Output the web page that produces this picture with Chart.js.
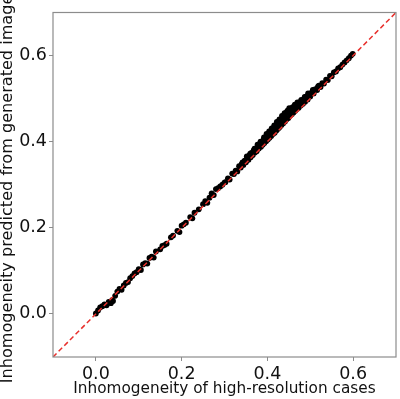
<!DOCTYPE html>
<html>
<head>
<meta charset="utf-8">
<script src="https://cdn.jsdelivr.net/npm/chart.js@4/dist/chart.umd.min.js"></script>
<style>
    html, body { margin: 0; padding: 0; background: #fff; }
    #wrap { width: 400px; height: 399px; }
</style>
</head>
<body>
<div id="wrap"><canvas id="chart"></canvas></div>
<script>
// Values
const highRes = [
    0.000, 0.005, 0.010, 0.015, 0.020, 0.025, 0.030, 0.035, 0.038, 0.040,
    0.045, 0.050, 0.055, 0.060, 0.065, 0.070, 0.075, 0.080, 0.085, 0.090,
    0.095, 0.100, 0.105, 0.110, 0.115, 0.120, 0.125, 0.130, 0.135, 0.140,
    0.150, 0.155, 0.160, 0.165, 0.175, 0.180, 0.190, 0.195, 0.200, 0.205,
    0.210, 0.220, 0.225, 0.230, 0.240, 0.250, 0.255, 0.260, 0.265, 0.270,
    0.275, 0.280, 0.285, 0.290, 0.295, 0.300,
    0.302, 0.308, 0.312, 0.318, 0.322, 0.326, 0.330, 0.334, 0.338, 0.340,
    0.344, 0.347, 0.350, 0.353, 0.356, 0.358, 0.361, 0.363, 0.366, 0.368,
    0.371, 0.373, 0.375, 0.378, 0.380, 0.382, 0.385, 0.387, 0.389, 0.391,
    0.393, 0.395, 0.397, 0.399, 0.401, 0.403, 0.405, 0.407, 0.409, 0.411,
    0.413, 0.415, 0.417, 0.419, 0.421, 0.423, 0.425, 0.427, 0.429, 0.431,
    0.433, 0.435, 0.437, 0.439, 0.441, 0.443, 0.445, 0.447, 0.449, 0.451,
    0.453, 0.455, 0.457, 0.459, 0.461, 0.463, 0.465, 0.467, 0.469, 0.471,
    0.473, 0.476, 0.478, 0.481, 0.483, 0.486, 0.488, 0.491, 0.494, 0.497,
    0.500, 0.504, 0.508, 0.512, 0.516, 0.520, 0.524, 0.528, 0.532, 0.537,
    0.541, 0.546, 0.550, 0.555, 0.560, 0.565, 0.570, 0.575, 0.580, 0.585,
    0.590, 0.595, 0.599,
    0.342, 0.352, 0.360, 0.370, 0.377, 0.384, 0.392, 0.398, 0.404, 0.410,
    0.416, 0.422, 0.428, 0.434, 0.440, 0.446, 0.452, 0.458, 0.464, 0.470,
    0.479, 0.487, 0.495, 0.506, 0.518
];
const predicted = [
    0.001, 0.008, 0.015, 0.018, 0.022, 0.020, 0.028, 0.025, 0.032, 0.030,
    0.042, 0.052, 0.058, 0.056, 0.066, 0.072, 0.074, 0.083, 0.088, 0.094,
    0.097, 0.104, 0.102, 0.115, 0.118, 0.117, 0.130, 0.133, 0.131, 0.145,
    0.150, 0.158, 0.160, 0.163, 0.178, 0.182, 0.193, 0.190, 0.205, 0.208,
    0.212, 0.225, 0.222, 0.235, 0.243, 0.255, 0.262, 0.258, 0.270, 0.280,
    0.276, 0.290, 0.292, 0.296, 0.300, 0.305,
    0.306, 0.315, 0.312, 0.326, 0.325, 0.333, 0.331, 0.343, 0.340, 0.348,
    0.346, 0.356, 0.352, 0.362, 0.358, 0.368, 0.364, 0.374, 0.369, 0.380,
    0.375, 0.384, 0.378, 0.390, 0.384, 0.395, 0.388, 0.400, 0.393, 0.404,
    0.397, 0.410, 0.401, 0.413, 0.405, 0.418, 0.409, 0.422, 0.413, 0.428,
    0.418, 0.432, 0.421, 0.436, 0.426, 0.442, 0.430, 0.447, 0.434, 0.450,
    0.439, 0.455, 0.443, 0.460, 0.447, 0.466, 0.452, 0.472, 0.455, 0.478,
    0.460, 0.474, 0.464, 0.480, 0.468, 0.482, 0.472, 0.484, 0.476, 0.488,
    0.479, 0.492, 0.484, 0.494, 0.488, 0.500, 0.493, 0.505, 0.498, 0.510,
    0.505, 0.515, 0.512, 0.522, 0.520, 0.530, 0.527, 0.536, 0.535, 0.544,
    0.543, 0.553, 0.552, 0.561, 0.563, 0.570, 0.573, 0.579, 0.584, 0.589,
    0.594, 0.600, 0.604,
    0.352, 0.366, 0.372, 0.384, 0.393, 0.400, 0.410, 0.418, 0.424, 0.431,
    0.438, 0.446, 0.452, 0.460, 0.466, 0.470, 0.473, 0.478, 0.486, 0.491,
    0.497, 0.504, 0.512, 0.520, 0.528
];
const identityLine = [-0.1, 0.7];
const tickValues = [0.0, 0.2, 0.4, 0.6];
const axisMin = -0.1;
const axisMax = 0.7;

const fontFamily = '"DejaVu Sans", sans-serif';

// Draws the box round the plot area, like a matplotlib frame
const framePlugin = {
    id: 'frame',
    afterDatasetsDraw(chart) {
        const { ctx, chartArea } = chart;
        ctx.save();
        ctx.strokeStyle = '#8c8c8c';
        ctx.lineWidth = 1.2;
        ctx.strokeRect(chartArea.left, chartArea.top,
            chartArea.right - chartArea.left, chartArea.bottom - chartArea.top);
        ctx.restore();
    }
};

function fixedTicks(scale) {
    scale.ticks = tickValues.map(v => ({ value: v }));
}

const tickGrid = {
    drawOnChartArea: false,
    drawTicks: true,
    tickLength: 4,
    color: '#8c8c8c',
};

new Chart(document.getElementById('chart'), {
    type: 'scatter',
    data: {
        datasets: [
            {
                type: 'line',
                data: identityLine.map(v => ({ x: v, y: v })),
                borderColor: '#e8302c',
                borderWidth: 1.5,
                borderDash: [5, 3],
                pointRadius: 0,
                fill: false,
            },
            {
                data: highRes.map((x, i) => ({ x: x, y: predicted[i] })),
                backgroundColor: '#000000',
                borderWidth: 0,
                pointRadius: 2.9,
            }
        ]
    },
    options: {
        responsive: true,
        maintainAspectRatio: false,
        animation: false,
        layout: { padding: { top: 11, right: 2, left: 0, bottom: 0 } },
        plugins: {
            legend: { display: false },
            tooltip: { enabled: false },
        },
        scales: {
            x: {
                type: 'linear',
                min: axisMin,
                max: axisMax,
                afterBuildTicks: fixedTicks,
                afterFit: (scale) => { scale.height = 42; },
                grid: tickGrid,
                border: { display: false },
                ticks: {
                    font: { family: fontFamily, size: 17.5 },
                    color: '#111',
                    padding: 3,
                    maxRotation: 0,
                    callback: (v) => Number(v).toFixed(1),
                },
                title: {
                    display: true,
                    text: 'Inhomogeneity of high-resolution cases',
                    font: { family: fontFamily, size: 15.3 },
                    color: '#111',
                    padding: { top: 0, bottom: 1 },
                }
            },
            y: {
                type: 'linear',
                min: axisMin,
                max: axisMax,
                afterBuildTicks: fixedTicks,
                afterFit: (scale) => { scale.width = 53; },
                grid: tickGrid,
                border: { display: false },
                ticks: {
                    font: { family: fontFamily, size: 17.5 },
                    color: '#111',
                    padding: 2,
                    callback: (v) => Number(v).toFixed(1),
                },
                title: {
                    display: true,
                    text: 'Inhomogeneity predicted from generated images',
                    font: { family: fontFamily, size: 16.1, lineHeight: 1 },
                    color: '#111',
                    padding: { top: 0, bottom: 0 },
                }
            }
        }
    },
    plugins: [framePlugin]
});
</script>
</body>
</html>
